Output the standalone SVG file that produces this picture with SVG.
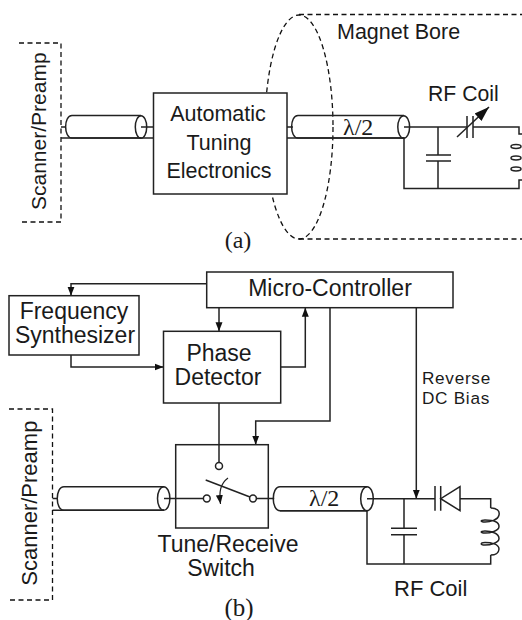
<svg xmlns="http://www.w3.org/2000/svg" width="522" height="620" viewBox="0 0 522 620">
<style>
text{font-family:"Liberation Sans",Arial,sans-serif;fill:#1a1a1a}
.m{text-anchor:middle}
.a{font-size:21.5px}
.b{font-size:23px}
.s{font-family:"Liberation Serif","Times New Roman",serif}
.w{fill:none;stroke:#222;stroke-width:1.5}
.t{fill:none;stroke:#222;stroke-width:1.2}
.d{fill:none;stroke:#111;stroke-width:1.3;stroke-dasharray:5 3.5}
.n{fill:#fff;stroke:#222;stroke-width:1.5}
</style>
<defs>
<marker id="ah" markerUnits="userSpaceOnUse" markerWidth="10" markerHeight="8" refX="9" refY="4" orient="auto"><path d="M0 0.5L9 4L0 7.5Z" fill="#111"/></marker>
<marker id="big" markerUnits="userSpaceOnUse" markerWidth="16" markerHeight="12" refX="15" refY="6" orient="auto"><path d="M0 1L15 6L0 11Z" fill="#111"/></marker>
</defs>

<g id="magnet-bore">
<ellipse cx="299" cy="127" rx="34" ry="112" class="d"/>
<path d="M299 14.5H522M299 239H522" class="d"/>
<text x="337" y="39" class="a">Magnet Bore</text>
</g>
<g id="scanner-a">
<path d="M19 43H61V222H19" class="d"/>
<text transform="translate(45.5 210) rotate(-90)" font-size="21">Scanner/Preamp</text>
</g>
<g id="connectors">
<path d="M61 127H66M61 138H153M141 127H153M287 127H293M287 138H404V188.5H438M404 127H467M473 127H519V134H522M438 127V155M438 161V188.5M438 188.5H519V180H522" class="w"/>
<path d="M426 155H451M426 161H451M467 116V138M473 116V138" class="w"/>
<path d="M457 137L489 107" class="w" marker-end="url(#big)"/>
<path d="M206.7 283.7H71V295.7" class="w" marker-end="url(#ah)"/>
<path d="M219 307.7V331.3" class="w" marker-end="url(#ah)"/>
<path d="M71 355V367H163.5" class="w" marker-end="url(#ah)"/>
<path d="M280.7 367H305.3V307.7" class="w" marker-end="url(#ah)"/>
<path d="M330 307.7V421H255.7V444.7" class="w" marker-end="url(#ah)"/>
<path d="M416.3 307.7V498.7" class="w" marker-end="url(#ah)"/>
<path d="M219 403V462.5" class="w"/>
<path d="M52.5 498.5H58M52.5 510.3H164M164 498.5H203.5M256.5 498.5H274.3M367 498.7H435M460 498.7H490.7V508M280 510.7H367V564H490.7V555M404 498.7V528.3M404 534.7V564" class="w"/>
<path d="M391 528.3H417M391 534.7H417M435 486V510.7M440.7 486V510.7" class="w"/>
</g>

<g id="coax-a1"><path d="M72 115.5H141M72 138H141M72 115.5C63.5 115.5 63.5 138 72 138" class="w"/><ellipse cx="141" cy="127" rx="5.7" ry="11.3" class="w"/></g>
<g id="tuning-box">
<rect x="153.5" y="93" width="133.5" height="101" class="n"/>
<text x="218" y="121" class="a m">Automatic</text>
<text x="219" y="150" class="a m">Tuning</text>
<text x="219" y="178" class="a m">Electronics</text>
</g>
<g id="coax-a2"><path d="M298 115.5H404M298 138H404M298 115.5C289.5 115.5 289.5 138 298 138" class="w"/><ellipse cx="403.7" cy="127" rx="5.9" ry="11.3" class="w"/>
<text x="343" y="134.5" class="s" font-size="24">λ/2</text></g>
<g id="rf-coil-a">
<text x="428" y="100.5" font-size="21.2">RF Coil</text>
<ellipse cx="516" cy="146.5" rx="5" ry="1.9" class="w"/>
<ellipse cx="516" cy="158" rx="5" ry="1.9" class="w"/>
<ellipse cx="516" cy="169" rx="5" ry="1.9" class="w"/>
</g>
<text id="label-a" x="238" y="248" class="s m" font-size="24">(a)</text>

<g id="micro-controller"><rect x="206.7" y="272" width="246.3" height="35.7" class="n"/><text x="330" y="295.7" class="b m">Micro-Controller</text></g>
<g id="frequency-synthesizer"><rect x="9" y="295.7" width="130" height="59.3" class="n"/>
<text x="74" y="319.3" class="b m">Frequency</text><text x="75" y="343" class="b m">Synthesizer</text></g>
<g id="phase-detector"><rect x="163.5" y="331.3" width="117.2" height="71.7" class="n"/>
<text x="219" y="361" class="b m">Phase</text><text x="218" y="385" class="b m">Detector</text></g>
<g id="reverse-bias"><text x="422" y="383.5" font-size="17.2" letter-spacing="0.7">Reverse</text><text x="422" y="404" font-size="17.2" letter-spacing="0.7">DC Bias</text></g>

<g id="scanner-b">
<path d="M9 409H52.5V600H9" class="d"/>
<text transform="translate(36.7 585.7) rotate(-90)" font-size="22">Scanner/Preamp</text>
</g>
<g id="coax-b1"><path d="M64 486.7H164M64 510.3H164M64 486.7C55 486.7 55 510.3 64 510.3" class="w"/><ellipse cx="163.7" cy="498.5" rx="6.2" ry="11.8" class="w"/></g>
<g id="switch">
<rect x="175.7" y="444.7" width="92.6" height="83.3" class="w"/>
<circle cx="219" cy="466" r="3.5" class="n"/>
<circle cx="206.8" cy="498.5" r="3.4" class="n"/>
<circle cx="253" cy="498.5" r="3.4" class="n"/>
<path d="M205.7 480L250 497" class="w"/>
<path d="M228 478C220 484 219 492 220.5 504" class="t" marker-end="url(#ah)"/>
<text x="228" y="552" class="b m">Tune/Receive</text>
<text x="221" y="575.7" class="b m">Switch</text>
</g>
<g id="coax-b2"><path d="M280 486.7H367M280 510.7H367M280 486.7C271 486.7 271 510.7 280 510.7" class="w"/><ellipse cx="367" cy="498.7" rx="6.3" ry="12" class="w"/>
<text x="309" y="506" class="s" font-size="24">λ/2</text></g>
<g id="rf-coil-b">
<path d="M460 486.5V510.7L440.7 498.7Z" class="n"/>
<path d="M490.7 508C497 508 500 511 499 515C498 520 490 522 485 522C480 522 480 520 485 520C491 520 499 521 499 526.5C499 531 490 533 485 533C480 533 480 531 485 531C491 531 499 533 499 538.5C499 543 490 545 485 545C480 545 480 542.5 485 542.5C491 542.5 499 544 499 549C499 553 495 555 490.7 555" class="w"/>
<text x="394" y="595.7" font-size="22">RF Coil</text>
</g>
<text id="label-b" x="239" y="616" class="s m" font-size="25">(b)</text>
</svg>
